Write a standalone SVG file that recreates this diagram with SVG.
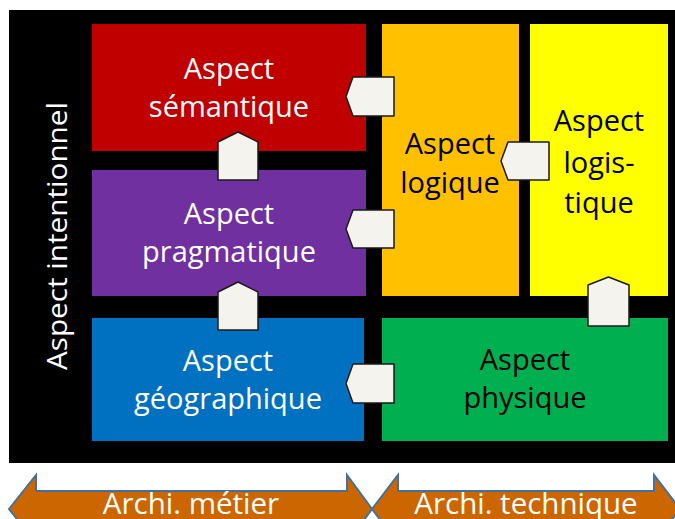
<svg xmlns="http://www.w3.org/2000/svg" width="675" height="519" viewBox="0 0 675 519">
<style>
.t{font-family:"Open Sans","Liberation Sans",sans-serif;font-size:29px;text-anchor:middle}
.w{fill:#ffffff}
.k{fill:#000000}
.c{fill:#F4F3EE;stroke:#1a1a1a;stroke-width:1.5;stroke-linejoin:round}
.arr{fill:#CC6600;stroke:#41719C;stroke-width:2;stroke-linejoin:miter}
.bt{font-family:"Open Sans","Liberation Sans",sans-serif;font-size:29.5px;text-anchor:middle;fill:#ffffff}
</style>
<rect x="0" y="0" width="675" height="519" fill="#ffffff"/>
<rect id="background" x="9" y="10" width="666" height="453" fill="#000000"/>
<text id="intentionnel" class="t w" transform="translate(67,236) rotate(-90)" x="0" y="0" style="font-size:28px" textLength="268" lengthAdjust="spacingAndGlyphs">Aspect intentionnel</text>
<g id="semantique">
<rect x="92" y="24" width="274" height="127" fill="#C00000"/>
<text class="t w" x="229" y="79">Aspect</text>
<text class="t w" x="229" y="117">sémantique</text>
</g>
<g id="pragmatique">
<rect x="92" y="170" width="274" height="126" fill="#7030A0"/>
<text class="t w" x="229" y="224">Aspect</text>
<text class="t w" x="229" y="262">pragmatique</text>
</g>
<g id="geographique">
<rect x="92" y="318" width="272" height="123" fill="#0070C0"/>
<text class="t w" x="228" y="371">Aspect</text>
<text class="t w" x="228" y="409">géographique</text>
</g>
<g id="logique">
<rect x="382" y="24" width="137" height="272" fill="#FFC000"/>
<text class="t k" x="450" y="154">Aspect</text>
<text class="t k" x="450" y="193">logique</text>
</g>
<g id="logistique">
<rect x="530" y="24" width="138" height="272" fill="#FFFF00"/>
<text class="t k" x="599" y="131">Aspect</text>
<text class="t k" x="599" y="173">logis-</text>
<text class="t k" x="599" y="213">tique</text>
</g>
<g id="physique">
<rect x="382" y="318" width="286" height="123" fill="#00B050"/>
<text class="t k" x="525" y="370">Aspect</text>
<text class="t k" x="525" y="408">physique</text>
</g>
<g id="connectors">
<polygon class="c" points="394,77 394,116 353,116 346,96.5 353,77"/>
<polygon class="c" points="394,210 394,248 353,248 346,229 353,210"/>
<polygon class="c" points="549,142 549,180 508,180 501,161 508,142"/>
<polygon class="c" points="394,364 394,403 353,403 346,383.5 353,364"/>
<polygon class="c" points="218,180 258,180 258,142 238,132 218,142"/>
<polygon class="c" points="218,330 258,330 258,292 238,282 218,292"/>
<polygon class="c" points="588,326 629,326 629,285 608.5,277 588,285"/>
</g>
<g id="metier">
<polygon class="arr" points="9,509 36,475 36,491 347,491 347,475 372,509 347,543 347,527 36,527 36,543"/>
<text class="bt" x="191" y="514">Archi. métier</text>
</g>
<g id="technique">
<polygon class="arr" points="372,509 398,475 398,491 654,491 654,475 680,509 654,543 654,527 398,527 398,543"/>
<text class="bt" x="526" y="514">Archi. technique</text>
</g>
</svg>
